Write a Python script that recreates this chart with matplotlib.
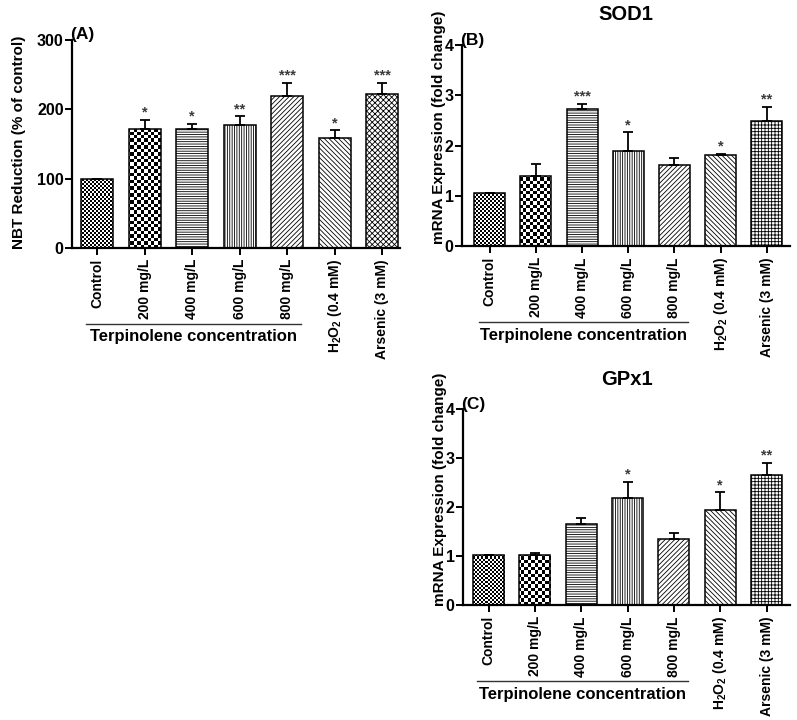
import numpy as np
import matplotlib
matplotlib.use("Agg")
import matplotlib.pyplot as plt
from matplotlib import transforms as mtrans
from matplotlib.lines import Line2D

plt.rcParams['font.family'] = ['Liberation Sans', 'DejaVu Sans']
plt.rcParams['font.weight'] = 'bold'
plt.rcParams['mathtext.fontset'] = 'custom'
plt.rcParams['mathtext.bf'] = 'Liberation Sans:bold'
plt.rcParams['mathtext.rm'] = 'Liberation Sans:bold'
plt.rcParams['hatch.linewidth'] = 0.6

categories = ['Control', '200 mg/L', '400 mg/L', '600 mg/L', '800 mg/L',
              r'H$_\mathbf{2}$O$_\mathbf{2}$ (0.4 mM)', 'Arsenic (3 mM)']

nbt_vals = [100, 171, 171, 177, 219, 158, 222]
nbt_err = [0, 14, 8, 13, 19, 12, 16]
nbt_sig = ['', '*', '*', '**', '***', '*', '***']

sod_vals = [1.05, 1.40, 2.73, 1.90, 1.61, 1.82, 2.49]
sod_err = [0.01, 0.23, 0.10, 0.36, 0.14, 0.02, 0.28]
sod_sig = ['', '', '***', '*', '', '*', '**']

gpx_vals = [1.02, 1.03, 1.66, 2.18, 1.34, 1.94, 2.66]
gpx_err = [0.01, 0.04, 0.12, 0.34, 0.12, 0.36, 0.24]
gpx_sig = ['', '', '', '*', '', '*', '**']

group_label = 'Terpinolene concentration'

fig = plt.figure(figsize=(7.97, 7.2), dpi=100)


def checker(ax, patch, sq_px):
    bb = ax.get_window_extent()
    nx = int(bb.width / sq_px)
    ny = int(bb.height / sq_px)
    img = np.add.outer(np.arange(ny), np.arange(nx)) % 2
    xl, yl = ax.get_xlim(), ax.get_ylim()
    im = ax.imshow(img, cmap='gray', extent=(xl[0], xl[1], yl[0], yl[1]),
                   aspect='auto', interpolation='nearest', zorder=0.8,
                   origin='lower')
    im.set_clip_path(patch)
    ax.set_xlim(xl)
    ax.set_ylim(yl)


def panel(rect, vals, errs, sigs, ylim, yticks, ylabel, letter, title,
          arsenic_hatch, xlim, label_coords):
    ax = fig.add_axes(rect)
    x = np.arange(len(vals))
    ax.set_xlim(*xlim)
    ax.set_ylim(*ylim)
    hatches = [None, None, '-' * 7, '|' * 7, '/' * 7, '\\' * 7, arsenic_hatch]
    bars = ax.bar(x, vals, width=0.67, facecolor='white', edgecolor='black',
                  linewidth=1.1, zorder=1)
    for b, h in zip(bars, hatches):
        if h:
            b.set_hatch(h)
    bars[0].set_facecolor('none')
    bars[1].set_facecolor('none')
    checker(ax, bars[0], 2.0)
    checker(ax, bars[1], 3.4)
    ax.errorbar(x, vals, yerr=[np.zeros(len(vals)), errs], fmt='none',
                ecolor='black', elinewidth=1.3, capsize=3.5, capthick=1.3,
                zorder=2)
    for xi, v, e, s in zip(x, vals, errs, sigs):
        if s:
            ax.annotate(s, (xi, v + e), xytext=(0, 0), textcoords='offset points',
                        ha='center', va='bottom', fontsize=10.5,
                        fontweight='bold', color='#3a3a3a')
    for sp in ['top', 'right']:
        ax.spines[sp].set_visible(False)
    for sp in ['left', 'bottom']:
        ax.spines[sp].set_linewidth(1.6)
    ax.set_yticks(yticks)
    ax.tick_params(axis='y', length=5, width=1.4, labelsize=11.5, pad=1)
    ax.tick_params(axis='x', length=5, width=1.4, labelsize=10, pad=3)
    ax.set_xticks(x)
    ax.set_xticklabels(categories, rotation=90, va='top', ha='center',
                       fontweight='bold')
    for t in ax.get_yticklabels():
        t.set_fontweight('bold')
    ax.set_ylabel(ylabel, fontsize=11, fontweight='bold')
    ax.yaxis.set_label_coords(*label_coords)
    ax.text(0.0, 1.0, letter, transform=mtrans.offset_copy(
        ax.transAxes, fig=fig, x=10, y=5, units='dots'),
        fontsize=12.5, fontweight='bold', ha='center', va='center')
    if title:
        ax.text(0.5, 1.0, title, transform=mtrans.offset_copy(
            ax.transAxes, fig=fig, y=30, units='dots'),
            fontsize=14.5, fontweight='bold', ha='center', va='center')
    blend = mtrans.blended_transform_factory(ax.transData, ax.transAxes)
    ltr = mtrans.offset_copy(blend, fig=fig, y=-76, units='dots')
    ax.add_line(Line2D([-0.24, 4.3], [0, 0], transform=ltr, color='#333333',
                       linewidth=1.0, clip_on=False))
    ttr = mtrans.offset_copy(blend, fig=fig, y=-89, units='dots')
    ax.text(2.03, 0, group_label, transform=ttr, ha='center', va='center',
            fontsize=12, fontweight='bold', clip_on=False)
    return ax


panel([0.0903, 0.6556, 0.412, 0.2889], nbt_vals, nbt_err, nbt_sig,
      (0, 300), [0, 100, 200, 300], 'NBT Reduction (% of control)', '(A)',
      None, 'xxxxxx', (-0.53, 6.38), (-0.14, 0.51))
panel([0.5797, 0.6583, 0.4113, 0.2792], sod_vals, sod_err, sod_sig,
      (0, 4), [0, 1, 2, 3, 4], 'mRNA Expression (fold change)', '(B)',
      'SOD1', '+' * 5, (-0.6, 6.5), (-0.05, 0.59))
panel([0.581, 0.1597, 0.41, 0.2722], gpx_vals, gpx_err, gpx_sig,
      (0, 4), [0, 1, 2, 3, 4], 'mRNA Expression (fold change)', '(C)',
      'GPx1', '+' * 5, (-0.55, 6.5), (-0.05, 0.59))

fig.savefig('out.png', dpi=100)
